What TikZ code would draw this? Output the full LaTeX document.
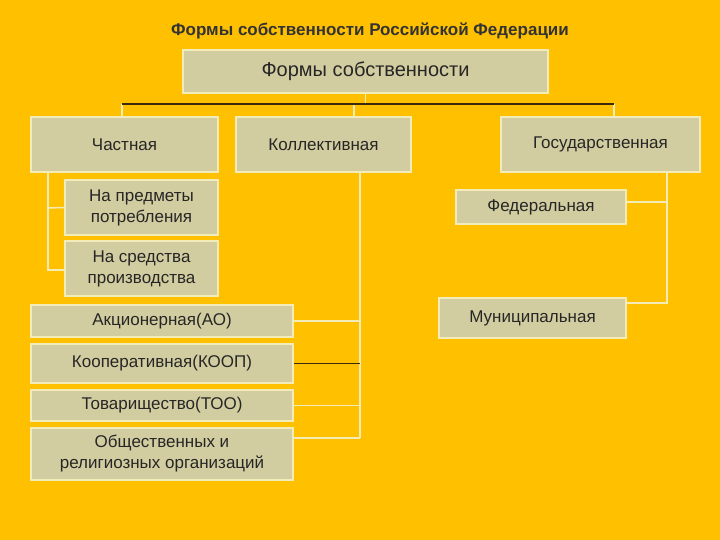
\documentclass[tikz,border=0pt]{standalone}
\usepackage{fontspec}
\setmainfont{Liberation Sans}
\definecolor{bg}{HTML}{FFC000}
\definecolor{boxf}{HTML}{D2CDA0}
\definecolor{boxd}{HTML}{F4ECB8}
\definecolor{dark}{HTML}{3A2A10}
\begin{document}
\begin{tikzpicture}[x=1pt,y=-1pt,
  bx/.style={draw=boxd,line width=1.5pt,fill=boxf,inner sep=0pt,align=center,font=\fontsize{17}{21}\selectfont,text=black!85},
  ln/.style={draw=boxd,line width=1.5pt},
  dk/.style={draw=dark,line width=1.8pt}]
\fill[bg] (0,0) rectangle (720,540);
\useasboundingbox (0,0) rectangle (720,540);
\node[font=\bfseries\fontsize{17}{20}\selectfont,text=black!80] (title) at (370,31) {Формы собственности Российской Федерации};
\newcommand{\bxn}[6]{\node[bx,minimum width=#3-#2,minimum height=#5-#4] (#1) at ({(#2+#3)/2},{(#4+#5)/2}) {#6};}
\bxn{top}{183}{548}{50}{93}{\fontsize{20}{24}\selectfont Формы собственности}
\bxn{ch}{31}{218}{117}{172}{Частная}
\bxn{kol}{236}{411}{117}{172}{Коллективная}
\bxn{gos}{501}{700}{117}{172}{Государственная}
\bxn{pr}{65}{218}{180}{235}{На предметы\\потребления}
\bxn{sr}{65}{218}{241}{296}{На средства\\производства}
\bxn{ao}{31}{293}{305}{337}{Акционерная(АО)}
\bxn{koop}{31}{293}{344}{383}{Кооперативная(КООП)}
\bxn{too}{31}{293}{390}{421}{Товарищество(ТОО)}
\bxn{obs}{31}{293}{428}{480}{Общественных и\\религиозных организаций}
\bxn{fed}{456}{626}{190}{224}{Федеральная}
\bxn{mun}{439}{626}{298}{338}{Муниципальная}
% bus
\coordinate (bl) at (122,104);
\coordinate (br) at (614,104);
\draw[ln] (top.south) -- (top.south |- bl);
\draw[ln] (bl) -- (bl |- ch.north);
\draw[ln] (354,104) -- (kol.north -| 354,0);
\draw[ln] (br) -- (br |- gos.north);
\draw[dk] (bl) -- (br);
% private
\coordinate (cv) at (48,172);
\draw[ln] (cv) -- (48,270) -- (sr.west |- 0,270);
\draw[ln] (48,208) -- (pr.west);
% collective
\draw[ln] (360,172) -- (360,438);
\draw[ln] (ao.east) -- (ao.east -| 360,0);
\draw[dk] (koop.east) -- (koop.east -| 360,0);
\draw[ln] (too.east) -- (too.east -| 360,0);
\draw[ln] (obs.east |- 0,438) -- (360,438);
% state
\draw[ln] (667,172) -- (667,303) -- (mun.east |- 0,303);
\draw[ln] (fed.east |- 0,202) -- (667,202);
\end{tikzpicture}
\end{document}
